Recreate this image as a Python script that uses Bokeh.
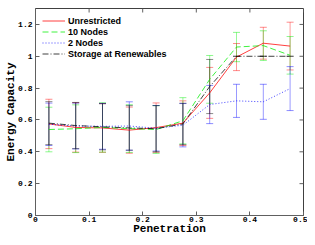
import math
from bokeh.plotting import figure
from bokeh.models import ColumnDataSource, Whisker, TeeHead, Range1d, FixedTicker, Legend
from bokeh.embed import file_html
from bokeh.resources import INLINE

penetration = [0.025, 0.075, 0.125, 0.175, 0.225, 0.275, 0.325, 0.375, 0.425, 0.475]

unrestricted = [0.575, 0.553, 0.55, 0.536, 0.552, 0.58, 0.77, 0.995, 1.082, 1.064]
unrestricted_err = [0.155, 0.155, 0.153, 0.145, 0.155, 0.14, 0.16, 0.085, 0.10, 0.15]

nodes10 = [0.54, 0.545, 0.553, 0.546, 0.54, 0.595, 0.855, 1.058, 1.067, 1.006]
nodes10_err = [0.14, 0.15, 0.155, 0.15, 0.15, 0.145, 0.15, 0.092, 0.093, 0.118]

nodes2 = [0.573, 0.562, 0.56, 0.562, 0.548, 0.567, 0.697, 0.72, 0.714, 0.797]
nodes2_err = [0.133, 0.144, 0.144, 0.152, 0.143, 0.136, 0.12, 0.104, 0.11, 0.138]

storage = [0.58, 0.565, 0.557, 0.55, 0.545, 0.575, 0.81, 1.0, 1.0, 1.0]
storage_err = [0.135, 0.145, 0.145, 0.14, 0.145, 0.13, 0.17, 0.0, 0.0, 0.0]

series = [
    ("Unrestricted", unrestricted, unrestricted_err, "#ff0000", "solid"),
    ("10 Nodes", nodes10, nodes10_err, "#00ee00", "6 3"),
    ("2 Nodes", nodes2, nodes2_err, "#0000ff", "1 2"),
    ("Storage at Renewables", storage, storage_err, "#000000", "6 2 1 2"),
]

x_ticks = [0, 0.1, 0.2, 0.3, 0.4, 0.5]
y_ticks = [0, 0.2, 0.4, 0.6, 0.8, 1.0, 1.2]
x_max = 0.5
y_max = 1.3

p = figure(width=307, height=237, output_backend="svg", toolbar_location=None,
           x_range=Range1d(0, x_max), y_range=Range1d(0, y_max),
           min_border_left=35, min_border_right=4, min_border_top=8, min_border_bottom=16)
p.xgrid.visible = False
p.ygrid.visible = False
p.outline_line_color = "#404040"
p.outline_line_width = 1

mono = "Liberation Mono"
for ax in (p.xaxis[0], p.yaxis[0]):
    ax.major_label_text_font = mono
    ax.major_label_text_font_style = "bold"
    ax.major_label_text_font_size = "8px"
    ax.major_label_text_color = "#000000"
    ax.axis_label_text_font = mono
    ax.axis_label_text_font_style = "bold"
    ax.axis_label_text_font_size = "11px"
    ax.axis_label_text_color = "#000000"
    ax.major_tick_in = 4
    ax.major_tick_out = 0
    ax.minor_tick_in = 0
    ax.minor_tick_out = 0
    ax.axis_line_color = "#606060"
    ax.major_tick_line_color = "#606060"
    ax.major_label_standoff = 1
    ax.axis_label_standoff = -2

p.yaxis[0].major_label_standoff = 3

p.xaxis[0].ticker = FixedTicker(ticks=x_ticks)
p.yaxis[0].ticker = FixedTicker(ticks=y_ticks)
p.xaxis[0].axis_label = "Penetration"
p.yaxis[0].axis_label = "Energy Capacity"
p.xaxis[0].major_label_overrides = {0: "0"}
p.yaxis[0].major_label_overrides = {0: "0", 1: "1"}

# mirrored inward ticks on top and right edges
p.ray(x=x_ticks, y=[y_max] * len(x_ticks), length=4, length_units="screen",
      angle=-math.pi / 2, line_color="#606060", line_width=1)
p.ray(x=[x_max] * len(y_ticks), y=y_ticks, length=4, length_units="screen",
      angle=math.pi, line_color="#606060", line_width=1)

items = []
for name, ys, errs, color, dash in series:
    src = ColumnDataSource(dict(
        x=penetration, y=ys,
        upper=[v + e for v, e in zip(ys, errs)],
        lower=[v - e for v, e in zip(ys, errs)],
    ))
    w = Whisker(base="x", upper="upper", lower="lower", source=src, dimension="height",
                line_color=color, line_alpha=0.4, line_width=1,
                upper_head=TeeHead(size=7, line_color=color, line_alpha=0.45, line_width=1),
                lower_head=TeeHead(size=7, line_color=color, line_alpha=0.45, line_width=1))
    w.level = "underlay"
    p.add_layout(w)
    r = p.line("x", "y", source=src, line_color=color, line_width=1, line_alpha=0.75,
               line_dash=dash)
    items.append((name, [r]))

legend = Legend(items=items, location="top_left")
legend.label_text_font = "Liberation Sans"
legend.label_text_font_style = "bold"
legend.label_text_font_size = "9px"
legend.label_text_color = "#000000"
legend.glyph_width = 23
legend.glyph_height = 11
legend.label_height = 11
legend.label_standoff = 3
legend.spacing = 0
legend.padding = 3
legend.margin = 4
legend.border_line_alpha = 0
legend.background_fill_alpha = 0
p.add_layout(legend)

open("out.html", "w").write(file_html(p, INLINE))
